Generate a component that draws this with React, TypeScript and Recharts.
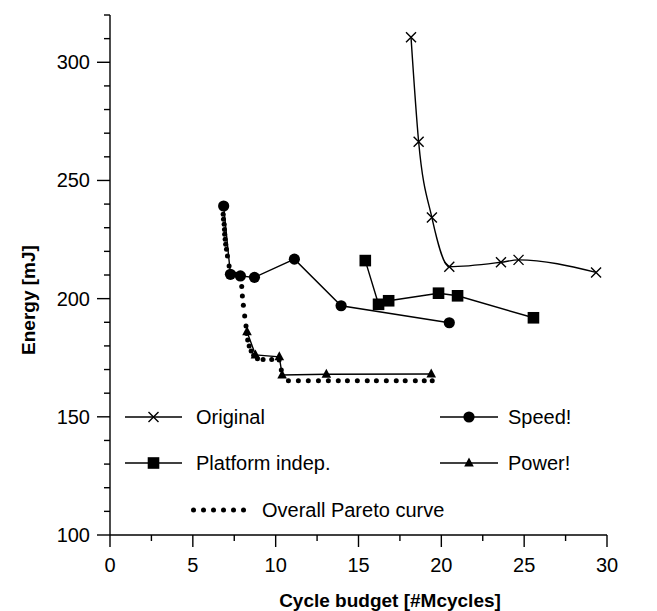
import React from "react";
import { ComposedChart, Line, XAxis, YAxis, Legend } from "recharts";

// values (x = Mcycles, y = mJ)
const original = [
  { x: 18.17, y: 310.6 },
  { x: 18.63, y: 266.4 },
  { x: 19.43, y: 234.3 },
  { x: 20.48, y: 213.5 },
  { x: 23.6, y: 215.4 },
  { x: 24.66, y: 216.4 },
  { x: 29.34, y: 211.1 },
];

const speed = [
  { x: 6.86, y: 239.2 },
  { x: 7.27, y: 210.3 },
  { x: 7.87, y: 209.6 },
  { x: 8.72, y: 209.0 },
  { x: 11.13, y: 216.7 },
  { x: 13.95, y: 197.0 },
  { x: 20.48, y: 189.8 },
];

const platform = [
  { x: 15.41, y: 216.1 },
  { x: 16.21, y: 197.6 },
  { x: 16.82, y: 199.1 },
  { x: 19.83, y: 202.3 },
  { x: 20.98, y: 201.2 },
  { x: 25.56, y: 191.9 },
];

const power = [
  { x: 8.27, y: 186.0 },
  { x: 8.78, y: 176.2 },
  { x: 10.22, y: 175.4 },
  { x: 10.39, y: 167.7 },
  { x: 13.06, y: 168.0 },
  { x: 19.39, y: 168.1 },
];

const pareto = [
  { x: 6.85, y: 239.2 }, { x: 6.83, y: 235.7 }, { x: 6.85, y: 233.6 },
  { x: 6.89, y: 231.5 }, { x: 6.91, y: 229.3 }, { x: 6.92, y: 227.2 },
  { x: 6.95, y: 225.1 }, { x: 6.98, y: 223.0 }, { x: 7.03, y: 220.9 },
  { x: 7.09, y: 218.0 }, { x: 7.19, y: 213.8 }, { x: 7.29, y: 209.6 },
  { x: 7.59, y: 210.3 }, { x: 7.95, y: 209.9 }, { x: 7.95, y: 205.1 },
  { x: 7.99, y: 201.1 }, { x: 8.05, y: 197.2 }, { x: 8.13, y: 192.7 },
  { x: 8.21, y: 188.4 }, { x: 8.25, y: 185.3 }, { x: 8.31, y: 182.5 },
  { x: 8.4, y: 180.0 }, { x: 8.52, y: 177.8 }, { x: 8.67, y: 176.0 },
  { x: 8.9, y: 174.6 }, { x: 9.24, y: 174.3 }, { x: 9.76, y: 174.3 },
  { x: 10.21, y: 174.0 }, { x: 10.34, y: 169.8 },
  { x: 10.77, y: 165.3 }, { x: 11.37, y: 165.3 }, { x: 11.97, y: 165.3 },
  { x: 12.58, y: 165.3 }, { x: 13.18, y: 165.3 }, { x: 13.78, y: 165.3 },
  { x: 14.33, y: 165.3 }, { x: 14.93, y: 165.3 }, { x: 15.53, y: 165.3 },
  { x: 16.08, y: 165.3 }, { x: 16.68, y: 165.3 }, { x: 17.28, y: 165.3 },
  { x: 17.82, y: 165.3 }, { x: 18.43, y: 165.3 }, { x: 18.97, y: 165.3 },
  { x: 19.45, y: 165.3 },
];

const xTicks = [0, 2.5, 5, 7.5, 10, 12.5, 15, 17.5, 20, 22.5, 25, 27.5, 30];
const yTicks = [100, 110, 120, 130, 140, 150, 160, 170, 180, 190, 200, 210, 220, 230, 240, 250, 260, 270, 280, 290, 300, 310, 320];

const names = ["Original", "Speed!", "Platform indep.", "Power!", "Overall Pareto curve"];

const FONT = "'Liberation Sans', Arial, Helvetica, sans-serif";

const cross = (cx: number, cy: number, s = 5) =>
  `M${cx - s},${cy - s}L${cx + s},${cy + s}M${cx - s},${cy + s}L${cx + s},${cy - s}`;
const tri = (cx: number, cy: number) =>
  `M${cx},${cy - 5.5}L${cx + 4.8},${cy + 3.5}L${cx - 4.8},${cy + 3.5}Z`;

const CrossDot = (p: any) =>
  p.cx == null ? null : (
    <path key={p.index} d={cross(p.cx, p.cy)} stroke="#000" strokeWidth={1.4} fill="none" />
  );
const CircleDot = (p: any) =>
  p.cx == null ? null : <circle key={p.index} cx={p.cx} cy={p.cy} r={5.6} fill="#000" />;
const SquareDot = (p: any) =>
  p.cx == null ? null : (
    <rect key={p.index} x={p.cx - 5.8} y={p.cy - 5.8} width={11.6} height={11.6} fill="#000" />
  );
const TriDot = (p: any) =>
  p.cx == null ? null : <path key={p.index} d={tri(p.cx, p.cy)} fill="#000" />;
const SmallDot = (p: any) =>
  p.cx == null ? null : <circle key={p.index} cx={p.cx} cy={p.cy} r={2.5} fill="#000" />;

const XTick = ({ x, y, payload }: any) => {
  const major = payload.value % 5 === 0;
  return (
    <g>
      <line x1={x} x2={x} y1={y} y2={y + (major ? 12 : 6)} stroke="#000" strokeWidth={1.4} />
      {major && (
        <text x={x} y={y + 37} textAnchor="middle" fontSize={20} fontFamily={FONT} fill="#000">
          {payload.value}
        </text>
      )}
    </g>
  );
};

const YTick = ({ x, y, payload }: any) => {
  const major = payload.value % 50 === 0;
  return (
    <g>
      <line x1={x} x2={x - (major ? 13 : 6)} y1={y} y2={y} stroke="#000" strokeWidth={1.4} />
      {major && (
        <text x={x - 20} y={y + 7} textAnchor="end" fontSize={20} fontFamily={FONT} fill="#000">
          {payload.value}
        </text>
      )}
    </g>
  );
};

function LegendBox() {
  const txt = { fontSize: 20, fontFamily: FONT, fill: "#000" };
  const rows = [417, 463, 510];
  return (
    <svg width={657} height={611} style={{ position: "absolute", left: 0, top: 0 }}>
      <line x1={125} x2={182} y1={rows[0]} y2={rows[0]} stroke="#000" strokeWidth={1.4} />
      <path d={cross(153.5, rows[0])} stroke="#000" strokeWidth={1.4} />
      <text x={196} y={rows[0] + 7} {...txt}>{names[0]}</text>

      <line x1={440} x2={498} y1={rows[0]} y2={rows[0]} stroke="#000" strokeWidth={1.4} />
      <circle cx={469} cy={rows[0]} r={5.6} fill="#000" />
      <text x={508} y={rows[0] + 7} {...txt}>{names[1]}</text>

      <line x1={125} x2={182} y1={rows[1]} y2={rows[1]} stroke="#000" strokeWidth={1.4} />
      <rect x={153.5 - 5.8} y={rows[1] - 5.8} width={11.6} height={11.6} fill="#000" />
      <text x={196} y={rows[1] + 7} {...txt}>{names[2]}</text>

      <line x1={440} x2={498} y1={rows[1]} y2={rows[1]} stroke="#000" strokeWidth={1.4} />
      <path d={tri(469, rows[1])} fill="#000" />
      <text x={508} y={rows[1] + 7} {...txt}>{names[3]}</text>

      {[0, 1, 2, 3, 4, 5].map((i) => (
        <circle key={i} cx={193.5 + i * 10} cy={rows[2]} r={2.5} fill="#000" />
      ))}
      <text x={262} y={rows[2] + 7} {...txt}>{names[4]}</text>
    </svg>
  );
}

export default function App() {
  return (
    <div style={{ position: "absolute", left: 0, top: 0, width: 657, height: 611, background: "#fff" }}>
      <ComposedChart
        width={657}
        height={611}
        margin={{ top: 15, right: 50, bottom: 0, left: 0 }}
      >
        <XAxis
          type="number"
          dataKey="x"
          domain={[0, 30]}
          ticks={xTicks}
          interval={0}
          height={76}
          tickSize={0}
          tickMargin={0}
          tickLine={false}
          tick={<XTick />}
          axisLine={{ stroke: "#000", strokeWidth: 1.4 }}
          label={{
            content: () => (
              <text x={390} y={607} textAnchor="middle" fontSize={19} fontWeight="bold" fontFamily={FONT} fill="#000">
                Cycle budget [#Mcycles]
              </text>
            ),
          }}
        />
        <YAxis
          type="number"
          dataKey="y"
          domain={[100, 320]}
          ticks={yTicks}
          interval={0}
          width={110}
          tickSize={0}
          tickMargin={0}
          tickLine={false}
          tick={<YTick />}
          axisLine={{ stroke: "#000", strokeWidth: 1.4 }}
          label={{
            content: () => (
              <text
                x={28}
                y={300}
                transform="rotate(-90 28 300)"
                textAnchor="middle"
                dominantBaseline="central"
                fontSize={19}
                fontWeight="bold"
                fontFamily={FONT}
                fill="#000"
              >
                Energy [mJ]
              </text>
            ),
          }}
        />
        <Line data={pareto} dataKey="y" name={names[4]} stroke="none" dot={SmallDot} activeDot={false} isAnimationActive={false} />
        <Line data={original} dataKey="y" name={names[0]} type="monotone" stroke="#000" strokeWidth={1.4} dot={CrossDot} activeDot={false} isAnimationActive={false} />
        <Line data={speed} dataKey="y" name={names[1]} stroke="#000" strokeWidth={1.4} dot={CircleDot} activeDot={false} isAnimationActive={false} />
        <Line data={platform} dataKey="y" name={names[2]} stroke="#000" strokeWidth={1.4} dot={SquareDot} activeDot={false} isAnimationActive={false} />
        <Line data={power} dataKey="y" name={names[3]} stroke="#000" strokeWidth={1.4} dot={TriDot} activeDot={false} isAnimationActive={false} />
        <Legend
          layout="horizontal"
          verticalAlign="middle"
          align="center"
          wrapperStyle={{ left: 0, top: 0, width: 657, height: 611, pointerEvents: "none" }}
          content={() => <LegendBox />}
        />
      </ComposedChart>
    </div>
  );
}
